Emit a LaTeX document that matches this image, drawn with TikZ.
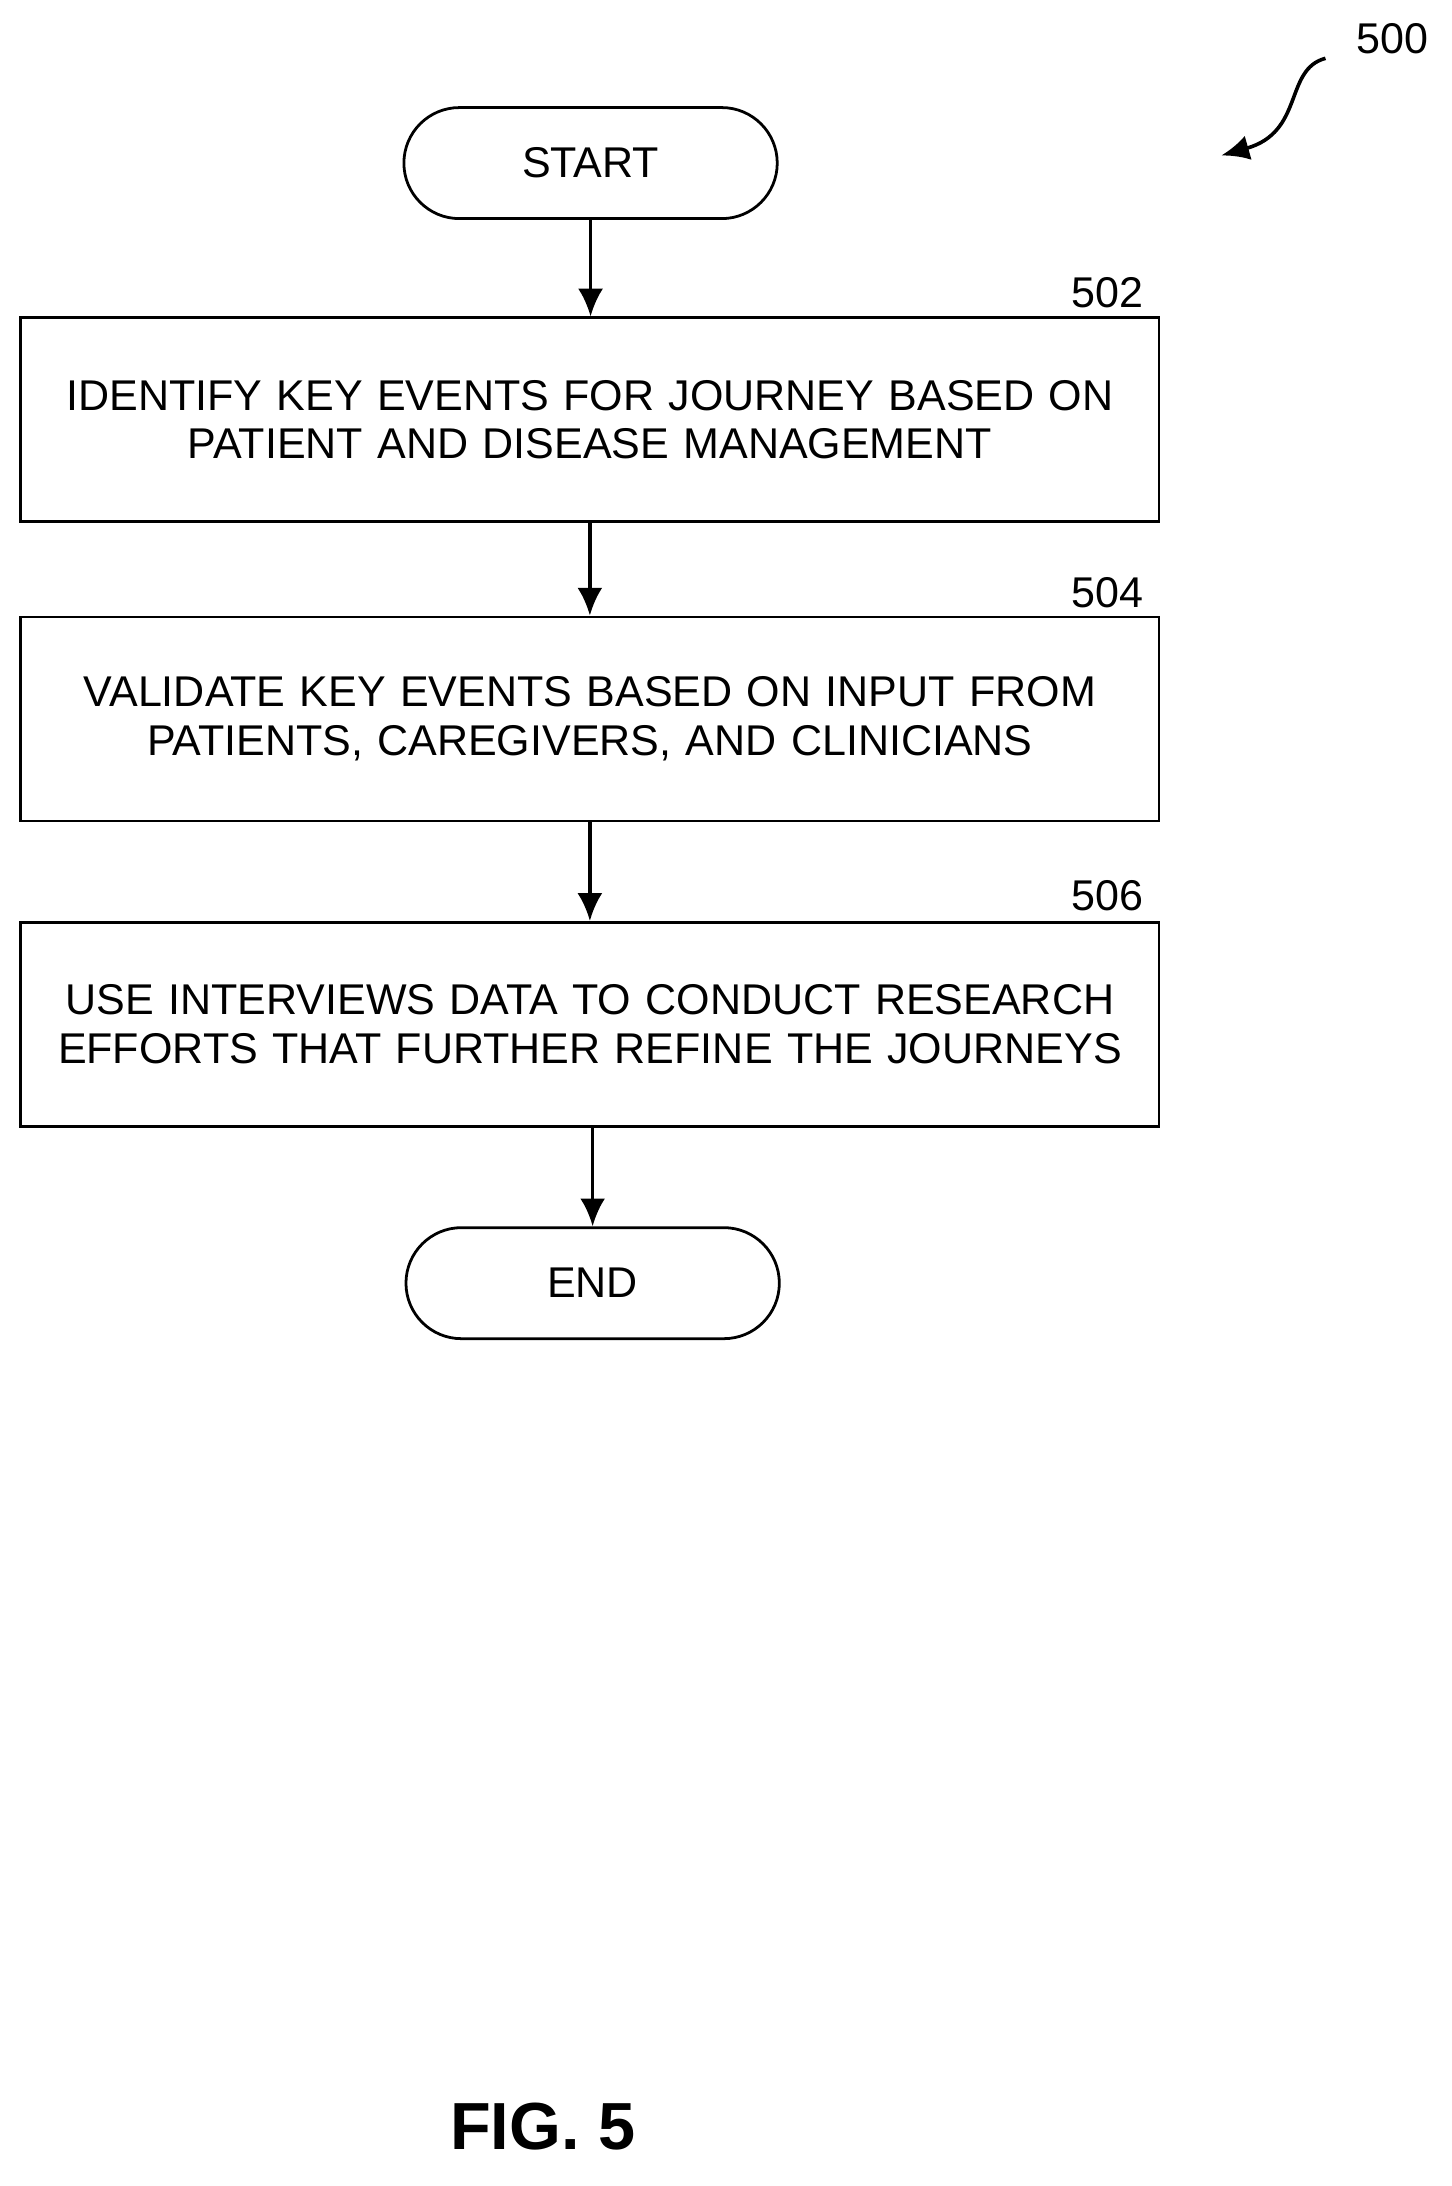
\documentclass[tikz,border=0pt]{standalone}
\usepackage{fontspec}
\setmainfont{Liberation Sans}
\usetikzlibrary{arrows.meta}
\begin{document}
\begin{tikzpicture}[x=0.5pt,y=-0.5pt,
  every node/.style={font=\fontsize{15.5}{17.5}\selectfont},
  term/.style={draw,line width=1pt,rounded corners=20pt,minimum width=134.5pt,minimum height=40pt,inner sep=0pt},
  box/.style={draw,line width=1pt,minimum width=410pt,text width=405pt,minimum height=73.5pt,align=center,inner sep=0pt},
  arr/.style={line width=1.3pt,-{Latex[length=10pt,width=9pt]}},
  lbl/.style={font=\fontsize{15.5}{17.5}\selectfont}]
\useasboundingbox (0,0) rectangle (1046,1575);
\node[term] (start) at (425.5,117.5) {START};
\node[box] (b502) at (425,302.5) {IDENTIFY KEY EVENTS FOR JOURNEY BASED ON\\PATIENT AND DISEASE MANAGEMENT};
\node[box] (b504) at (425,518) {VALIDATE KEY EVENTS BASED ON INPUT FROM\\PATIENTS, CAREGIVERS, AND CLINICIANS};
\node[box] (b506) at (425,738) {USE INTERVIEWS DATA TO CONDUCT RESEARCH\\EFFORTS THAT FURTHER REFINE THE JOURNEYS};
\node[term] (end) at (427,924.5) {END};
\node[lbl] (l502) at (798,211) {502};
\node[lbl] (l504) at (798,427) {504};
\node[lbl] (l506) at (798,645) {506};
\node[lbl] (l500) at (1003,28) {500};
\node[font=\bfseries\fontsize{24}{28}\selectfont] (fig) at (391,1532) {FIG. 5};
\draw[arr] (start) -- (start|-b502.north);
\draw[arr] (b502) -- (b502|-b504.north);
\draw[arr] (b504) -- (b504|-b506.north);
\draw[arr] (b506.south-|end) -- (end);
\coordinate (s0) at (955,42);
\coordinate (s1) at (880,112);
\draw[arr] (s0) .. controls (925,50) and (940,95) .. (s1);
\end{tikzpicture}
\end{document}
